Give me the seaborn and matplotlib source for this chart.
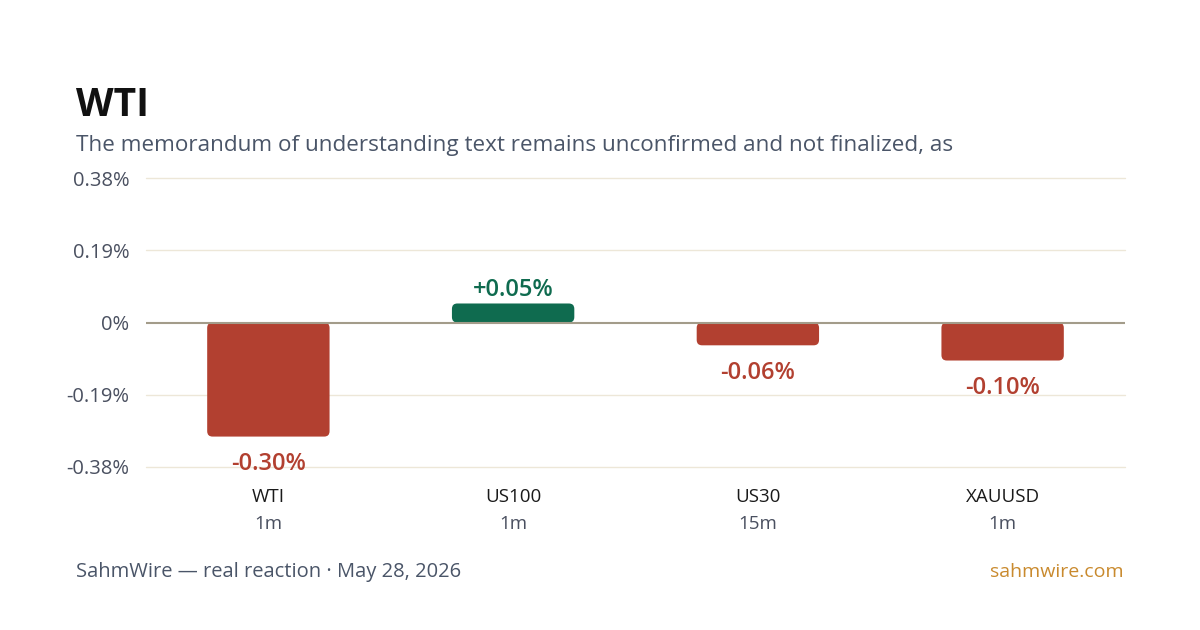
import matplotlib
matplotlib.use("Agg")
import matplotlib.pyplot as plt
from matplotlib.patches import FancyBboxPatch
import matplotlib.transforms as mtransforms
import seaborn as sns
import pandas as pd

symbols = ["WTI", "US100", "US30", "XAUUSD"]
timeframes = ["1m", "1m", "15m", "1m"]
changes = [-0.30, 0.05, -0.06, -0.10]
value_labels = ["-0.30%", "+0.05%", "-0.06%", "-0.10%"]
yticks = [-0.38, -0.19, 0.0, 0.19, 0.38]
ytick_labels = ["-0.38%", "-0.19%", "0%", "0.19%", "0.38%"]

title = "WTI"
subtitle = "The memorandum of understanding text remains unconfirmed and not finalized, as"
footer_left = "SahmWire \u2014 real reaction \u00b7 May 28, 2026"
footer_right = "sahmwire.com"

RED = "#B24030"
GREEN = "#0F6B4F"

sns.set_theme(style="white")
plt.rcParams["font.family"] = ["Open Sans", "DejaVu Sans"]

fig = plt.figure(figsize=(12, 6.3), dpi=100)
fig.patch.set_facecolor("white")
ax = fig.add_axes([146/1200, 1-467/630, (1125-146)/1200, (467-178)/630])

df = pd.DataFrame({"symbol": symbols, "change": changes})
colors = [GREEN if v >= 0 else RED for v in changes]
sns.barplot(data=df, x="symbol", y="change", hue="symbol", palette=colors,
            legend=False, width=0.5, ax=ax, saturation=1)

ax.set_xlim(-0.5, 3.5)
ax.set_ylim(-0.38, 0.38)

# replace bars with rounded ones
aspect = (0.76 / (467-178)) / (4.0 / (1125-146))
for p in list(ax.patches):
    x, y = p.get_x(), p.get_y()
    w, h = p.get_width(), p.get_height()
    fc = p.get_facecolor()
    p.remove()
    if h < 0:
        y, h = y + h, -h
    fb = FancyBboxPatch((x, y), w, h,
                        boxstyle="round,pad=0,rounding_size=0.022",
                        mutation_aspect=aspect, facecolor=fc,
                        edgecolor="none", zorder=3)
    ax.add_patch(fb)

# grid
for t in yticks:
    if t == 0:
        ax.axhline(0, color="#A39C8A", lw=1.5, zorder=4)
    else:
        ax.axhline(t, color="#EDE7D8", lw=1, zorder=1, clip_on=False)

ax.set_yticks(yticks)
ax.set_yticklabels(ytick_labels, fontsize=14.5, color="#4A5060")
ax.tick_params(axis="y", length=0, pad=12)
ax.set_xticks(range(len(symbols)))
ax.set_xticklabels([])
ax.tick_params(axis="x", length=0)
ax.set_xlabel("")
ax.set_ylabel("")
for s in ax.spines.values():
    s.set_visible(False)

# value labels
for i, (v, lab) in enumerate(zip(changes, value_labels)):
    col = GREEN if v >= 0 else RED
    off = 10 if v >= 0 else -20
    ax.annotate(lab, (i, v), xytext=(0, off), textcoords="offset points",
                ha="center", va="center", fontsize=17, fontweight="semibold",
                color=col, annotation_clip=False, zorder=5)

# category labels
trans = mtransforms.blended_transform_factory(ax.transData, fig.transFigure)
for i, (s, tf) in enumerate(zip(symbols, timeframes)):
    fig.text(i, 1-497/630, s, transform=trans, ha="center", va="center",
             fontsize=13.5, color="#1A1A1A")
    fig.text(i, 1-524/630, tf, transform=trans, ha="center", va="center",
             fontsize=13.5, color="#4A5060")

fig.text(76/1200, 1-106/630, title, fontsize=28, fontweight="bold",
         color="#111111", ha="left", va="center")
fig.text(76/1200, 1-145/630, subtitle, fontsize=16.2, color="#4A5568",
         ha="left", va="center")
fig.text(76/1200, 1-572/630, footer_left, fontsize=14.5, color="#4A5568",
         ha="left", va="center")
fig.text(1124/1200, 1-572/630, footer_right, fontsize=14, color="#C98A2E",
         ha="right", va="center")

fig.savefig("out.png", dpi=100, facecolor="white")
